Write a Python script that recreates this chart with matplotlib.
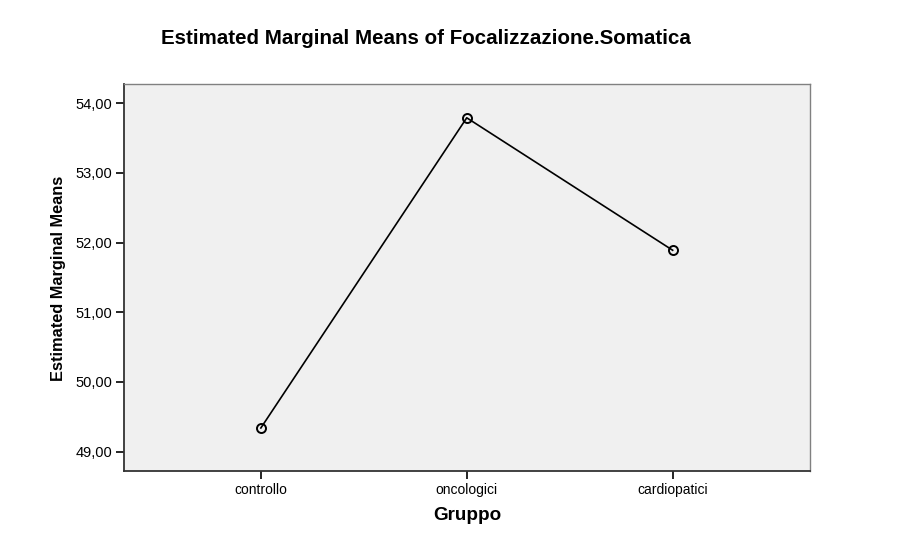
import matplotlib
matplotlib.use("Agg")
import matplotlib.pyplot as plt
from matplotlib.ticker import FixedLocator, FuncFormatter

plt.rcParams['font.family'] = ['Liberation Sans', 'DejaVu Sans']

categories = ["controllo", "oncologici", "cardiopatici"]
means = [49.34, 53.79, 51.89]
yticks = [49, 50, 51, 52, 53, 54]

fig = plt.figure(figsize=(9.17, 5.53), dpi=100)
fig.patch.set_facecolor("white")
ax = fig.add_axes([0.1347, 0.1483, 0.7486, 0.6998])
ax.set_facecolor("#f0f0f0")

x = list(range(len(categories)))
ax.plot(x, means, color="black", linewidth=1.2, marker="o", markersize=6.5,
        markerfacecolor="none", markeredgecolor="black", markeredgewidth=1.4)

ax.set_xlim(-0.667, 2.667)
ax.set_ylim(48.723, 54.275)
ax.set_xticks(x)
ax.set_xticklabels(categories, fontsize=10)
ax.yaxis.set_major_locator(FixedLocator(yticks))
ax.yaxis.set_major_formatter(FuncFormatter(lambda v, p: f"{v:.2f}".replace(".", ",")))
ax.tick_params(axis="y", labelsize=10.5, length=6, width=1.2, pad=2)
ax.tick_params(axis="x", length=6, width=1.2, pad=3)

for s in ["left", "bottom"]:
    ax.spines[s].set_color("#333333")
    ax.spines[s].set_linewidth(1.3)
for s in ["top", "right"]:
    ax.spines[s].set_color("#808080")
    ax.spines[s].set_linewidth(1.0)

fig.text(426/917, 1 - 38/553, "Estimated Marginal Means of Focalizzazione.Somatica",
         ha="center", va="center", fontsize=14.8, fontweight="bold")
fig.text(58/917, 1 - 278/553, "Estimated Marginal Means", rotation=90,
         ha="center", va="center", fontsize=11.8, fontweight="bold")
fig.text(467/917, 1 - 515/553, "Gruppo", ha="center", va="center",
         fontsize=13.6, fontweight="bold")

fig.savefig("out.png", dpi=100)
